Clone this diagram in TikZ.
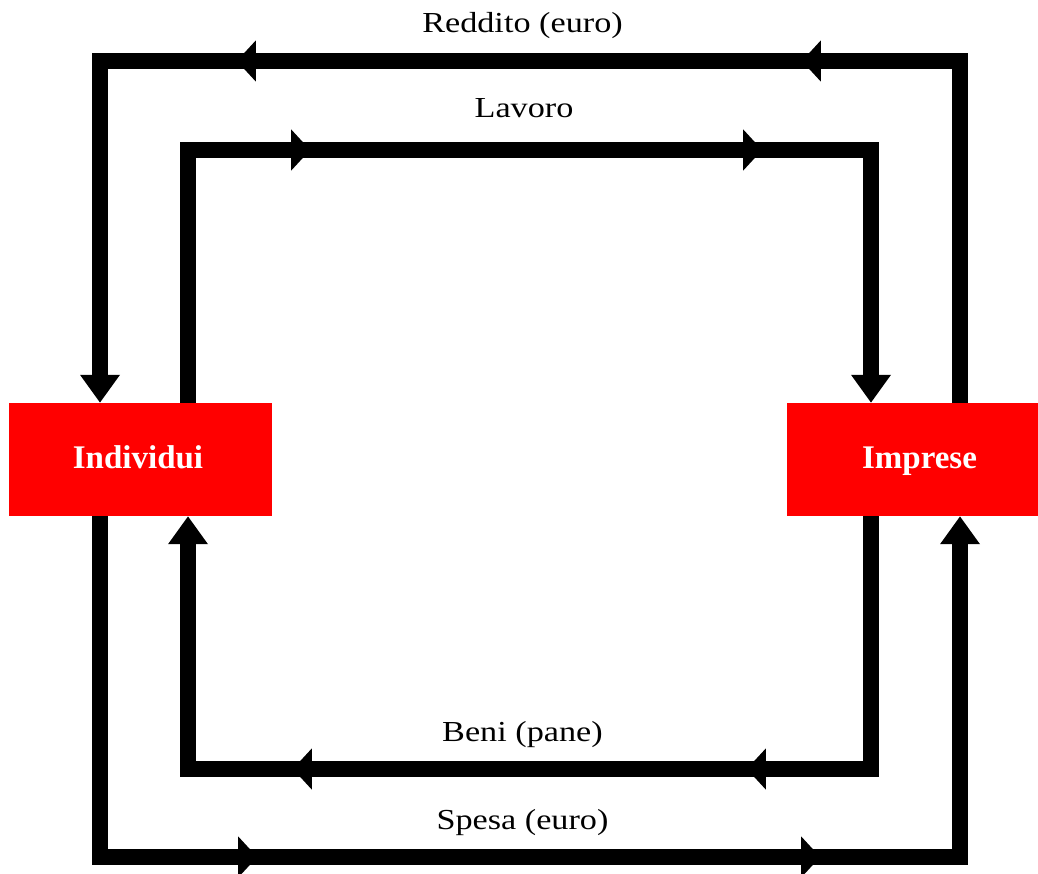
\documentclass[tikz,border=0pt]{standalone}
\usepackage{fontspec}
\usepackage{graphicx}
\setmainfont{Liberation Serif}
\usetikzlibrary{arrows.meta,decorations.markings}
\definecolor{boxred}{RGB}{255,0,0}
\tikzset{
  flow/.style={line width=16pt, line join=miter, draw=black,
    -{Triangle[length=28pt,width=38pt]}},
  mids/.style 2 args={postaction={decorate}, decoration={markings,
    mark=at position #1 with {\arrow{Triangle[length=19pt,width=40pt]}},
    mark=at position #2 with {\arrow{Triangle[length=19pt,width=40pt]}}}},
  agent/.style={fill=boxred, draw=none, inner sep=0pt},
  agentlabel/.style={text=white, font=\fontsize{33}{38}\selectfont\bfseries, inner sep=0pt, anchor=base},
  flowlabel/.style={font=\fontsize{29}{34}\selectfont, inner sep=0pt, anchor=base}
}
\newcommand{\wide}[1]{\scalebox{1.18}[1]{#1}}
\begin{document}
\begin{tikzpicture}[x=1pt,y=-1pt]
\useasboundingbox (0,0) rectangle (1038,873);
% agents
\node[agent, minimum width=263pt, minimum height=113pt] (ind) at (140.5,459.5) {};
\node[agent, minimum width=251pt, minimum height=113pt] (imp) at (912.5,459.5) {};
% corners
\coordinate (rTR) at (960,61);  \coordinate (rTL) at (100,61);
\coordinate (lTL) at (188,150); \coordinate (lTR) at (871,150);
\coordinate (bBR) at (871,769); \coordinate (bBL) at (188,769);
\coordinate (sBL) at (100,857); \coordinate (sBR) at (960,857);
% flows
\draw[flow, mids={500pt}{1065pt}] (imp.north -| rTR) -- (rTR) -- (rTL) -- (ind.north -| rTL);
\draw[flow, mids={375pt}{827pt}] (ind.north -| lTL) -- (lTL) -- (lTR) -- (imp.north -| lTR);
\draw[flow, mids={377pt}{831pt}] (imp.south -| bBR) -- (bBR) -- (bBL) -- (ind.south -| bBL);
\draw[flow, mids={498pt}{1061pt}] (ind.south -| sBL) -- (sBL) -- (sBR) -- (imp.south -| sBR);
% agent labels
\node[agentlabel] (indl) at (138,468) {Individui};
\node[agentlabel] (impl) at (919.5,468) {Imprese};
% flow labels
\node[flowlabel] (reddito) at (522.5,32.5) {\wide{Reddito (euro)}};
\node[flowlabel] (lavoro) at (524,117.5) {\wide{Lavoro}};
\node[flowlabel] (beni) at (522.5,741) {\wide{Beni (pane)}};
\node[flowlabel] (spesa) at (522.5,829) {\wide{Spesa (euro)}};
\end{tikzpicture}
\end{document}
